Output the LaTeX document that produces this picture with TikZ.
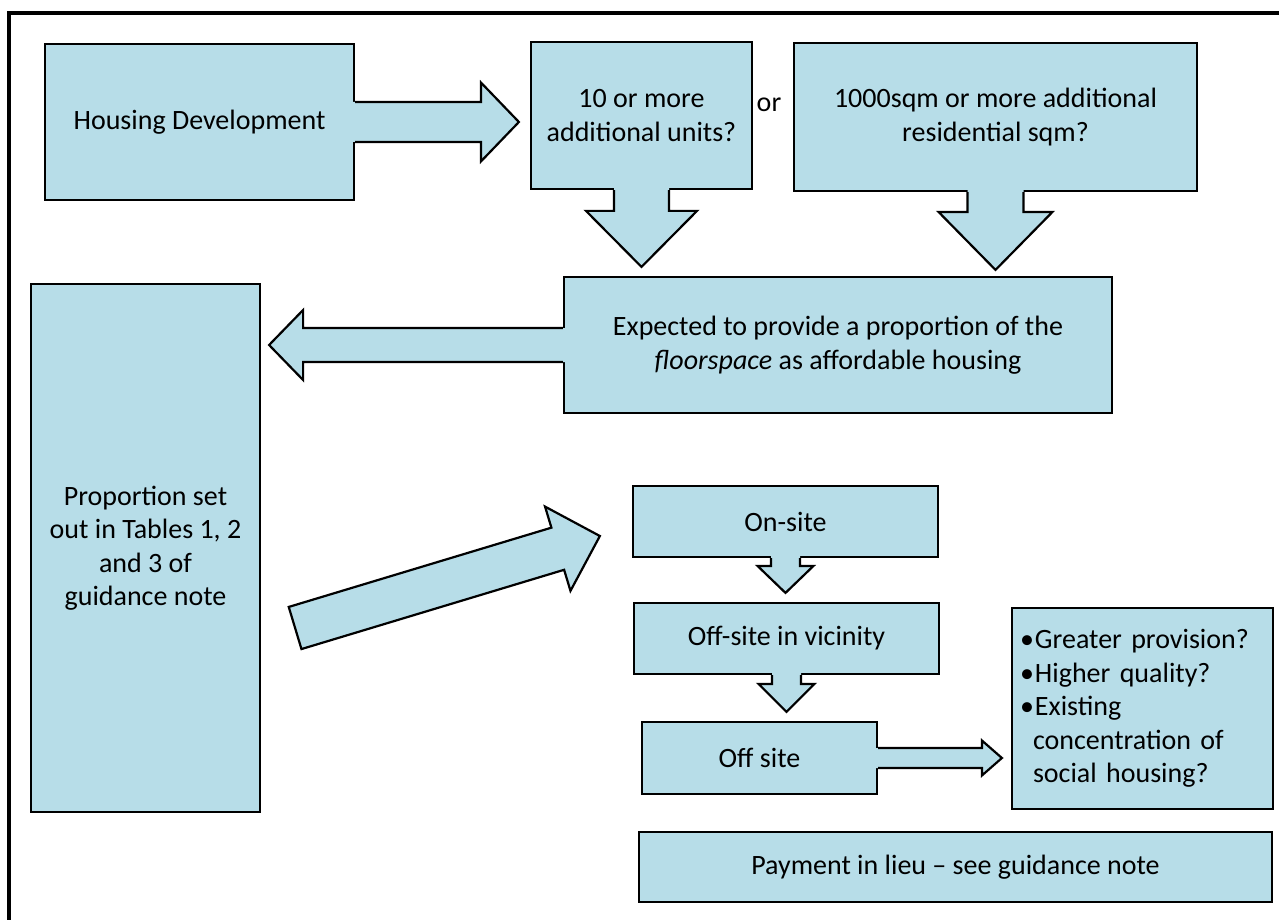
\documentclass[tikz,border=0pt]{standalone}
\usepackage{fontspec}
\setmainfont{Carlito}
\usetikzlibrary{calc}
\definecolor{boxblue}{HTML}{B7DDE8}
\newcommand{\bodyfont}{\fontsize{28}{33.5}\selectfont}
\tikzset{%
	panel/.style      = {draw, line width=2.2pt, fill=boxblue, rectangle,
		align=center, inner sep=0pt, font=\bodyfont},
	barfill/.style    = {fill=boxblue}, % arrow body
	barline/.style    = {draw, line width=2.2pt, line join=miter}, % arrow outline
	outerframe/.style = {line width=4pt}
}
% block arrow: [tail overlap]{tail}{tip}{half shaft}{half head}{head length}
% overlap 0pt gives a free, closed tail
\newcommand{\blockarrow}[6][3pt]{%
	\path let \p1 = (#2), \p2 = (#3) in
		\pgfextra{%
			\pgfmathparse{atan2(\y2-\y1,\x2-\x1)}\xdef\baang{\pgfmathresult}%
			\pgfmathparse{veclen(\x2-\x1,\y2-\y1)}\xdef\balen{\pgfmathresult pt}%
			\xdef\bax{\x1}\xdef\bay{\y1}};
	\ifdim#1=0pt \def\baend{-- cycle}\else\def\baend{}\fi
	\begin{scope}[shift={(\bax,\bay)}, rotate=\baang]
		\fill[barfill] (-#1,-#4) -- (\balen-#6,-#4) -- (\balen-#6,-#5) -- (\balen,0pt)
			-- (\balen-#6,#5) -- (\balen-#6,#4) -- (-#1,#4) -- cycle;
		\draw[barline] (0pt,-#4) -- (\balen-#6,-#4) -- (\balen-#6,-#5) -- (\balen,0pt)
			-- (\balen-#6,#5) -- (\balen-#6,#4) -- (0pt,#4) \baend;
	\end{scope}}
\newcommand{\bul}{\makebox[15pt][l]{\textbullet}}

\begin{document}
\begin{tikzpicture}[x=1pt, y=-1pt]
	\useasboundingbox (0,0) rectangle (1279,920);
	\draw[outerframe] (9,935) -- (9,13) -- (1290,13);

	\node[panel, minimum width=309pt, minimum height=156pt] (hd) at (199.5,122) {Housing Development};
	\node[panel, minimum width=221pt, minimum height=147pt] (units) at (641.5,115.5) {10 or more\\additional units?};
	\node[font=\bodyfont] (orword) at (769,105) {or};
	\node[panel, minimum width=403pt, minimum height=148pt] (sqm) at (995.5,117) {1000sqm or more additional\\residential sqm?};
	\node[panel, minimum width=548pt, minimum height=136pt] (expect) at (838,345) {Expected to provide a proportion of the\\\emph{floorspace} as affordable housing};
	\node[panel, minimum width=229pt, minimum height=528pt] (prop) at (145.5,548) {Proportion set\\out in Tables 1, 2\\and 3 of\\guidance note};
	\node[panel, minimum width=305pt, minimum height=71pt] (onsite) at (785.5,521.5) {On-site};
	\node[panel, minimum width=305pt, minimum height=71pt] (vicinity) at (786.5,638.5) {Off-site in vicinity};
	\node[panel, minimum width=235pt, minimum height=72pt] (offsite) at (759.5,758) {Off site};
	\node[panel, align=left, text width=245pt, inner xsep=8pt, minimum height=201pt] (extra) at (1142.5,708.5)
		{\bul Greater provision?\\\bul Higher quality?\\\bul Existing\\\hspace*{13pt}concentration of\\\hspace*{13pt}social housing?};
	\node[panel, minimum width=633pt, minimum height=70pt] (lieu) at (955.5,867) {Payment in lieu -- see guidance note};

	\coordinate (tail) at ($(prop.east)+(34,80)$);

	\blockarrow{hd.east}{$(units.west |- hd.east)+(-11,0)$}{20pt}{39.5pt}{38pt}
	\blockarrow{units.south}{$(units.south |- expect.north)+(0,-9)$}{27.5pt}{55.5pt}{56pt}
	\blockarrow{sqm.south}{$(sqm.south |- expect.north)+(0,-6)$}{28pt}{57pt}{58pt}
	\blockarrow{expect.west}{$(prop.east |- expect.west)+(8,0)$}{17pt}{35pt}{34pt}
	\blockarrow[0pt]{tail}{$(onsite.west)+(-32,14.5)$}{22pt}{44pt}{44pt}
	\blockarrow{onsite.south}{$(onsite.south |- vicinity.north)+(0,-9)$}{14.5pt}{28pt}{27pt}
	\blockarrow{vicinity.south}{$(vicinity.south |- offsite.north)+(0,-9)$}{14.5pt}{28pt}{28pt}
	\blockarrow{offsite.east}{$(extra.west |- offsite.east)+(-9,0)$}{10pt}{17.5pt}{20pt}
\end{tikzpicture}
\end{document}
